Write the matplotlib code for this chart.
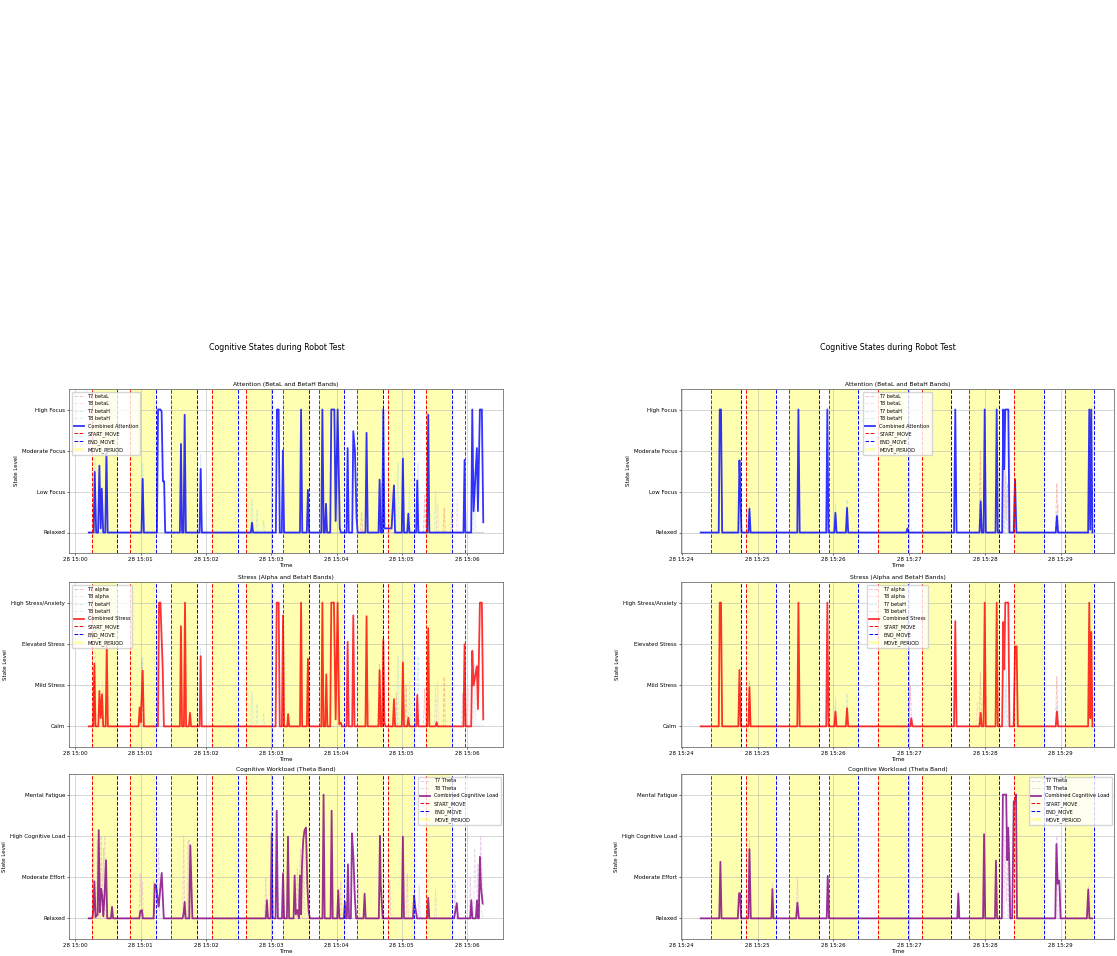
import pandas as pd
import matplotlib
matplotlib.use("Agg")
import matplotlib.pyplot as plt
import matplotlib.dates as mdates

# sesiones (inicio de cada prueba)
T0_A = pd.Timestamp("2024-05-28 15:00:00")
T0_B = pd.Timestamp("2024-05-28 15:24:00")

ATT_LEVELS = ["Relaxed", "Low Focus", "Moderate Focus", "High Focus"]
STR_LEVELS = ["Calm", "Mild Stress", "Elevated Stress", "High Stress/Anxiety"]
COG_LEVELS = ["Relaxed", "Moderate Effort", "High Cognitive Load", "Mental Fatigue"]

# ---- session A: (seconds after T0_A, state level) ----
a_attention = [(12.2, 0), (16.7, 0), (17.7, 1.48), (19.0, 0), (20.8, 0), (22.0, 1.63), (23.2, 0.1),
               (24.2, 1.07), (25.5, 0), (27.4, 0), (28.5, 2.0), (29.6, 0), (60.7, 0), (61.8, 1.31),
               (62.9, 0), (74.9, 0), (75.9, 3.0), (78.1, 3.0), (79.2, 2.95), (80.4, 1.25), (81.5, 1.25),
               (82.5, 0), (96.0, 0), (97.0, 2.16), (98.0, 0), (99.4, 0), (100.4, 2.87), (101.5, 0),
               (114.1, 0), (115.1, 1.55), (116.2, 0), (161.3, 0), (162.3, 0.24), (163.3, 0),
               (184.2, 0), (185.2, 3.0), (186.8, 3.0), (187.8, 0), (189.7, 0), (190.7, 2.0), (191.8, 0),
               (206.4, 0), (207.4, 3.0), (208.5, 0), (212.7, 0), (213.7, 1.04), (214.8, 0),
               (226.0, 0), (227.0, 3.0), (228.2, 0), (229.3, 0), (230.3, 0.7), (231.3, 0),
               (234.2, 0), (235.2, 3.0), (238.0, 3.0), (239.2, 0.28), (241.0, 3.0), (243.0, 0.1), (244.0, 0),
               (249.2, 0), (250.2, 2.06), (251.2, 0), (254.4, 0), (255.4, 2.47), (256.9, 2.0), (258.4, 0.36),
               (259.4, 0), (266.6, 0), (267.6, 2.43), (268.7, 0), (278.6, 0), (279.6, 1.29), (280.6, 0),
               (282.0, 0), (283.0, 3.0), (284.0, 0.1), (290.6, 0.1), (292.8, 1.15), (293.8, 0),
               (300.0, 0), (301.0, 1.8), (302.0, 0), (305.0, 0), (306.0, 0.46), (307.0, 0),
               (313.2, 0), (314.2, 1.27), (315.2, 0), (323.3, 0), (324.3, 2.87), (325.3, 0),
               (356.7, 0), (357.7, 1.77), (358.5, 0), (363.8, 0), (364.8, 3.0), (366.0, 0.52),
               (369.0, 2.06), (370.0, 0.52), (371.8, 3.0), (373.6, 3.0), (374.9, 0.25)]

a_stress = [(12.2, 0), (16.4, 0), (17.4, 1.52), (18.4, 0), (21.0, 0), (22.0, 0.86), (23.2, 0.2),
            (24.4, 0.78), (25.5, 0), (27.8, 0), (28.8, 2.0), (29.8, 0), (58.0, 0), (59.0, 0.46),
            (60.0, 0.1), (61.8, 1.35), (62.9, 0), (75.8, 0), (76.8, 3.0), (78.1, 3.0), (80.2, 1.4),
            (81.3, 0), (96.0, 0), (97.0, 2.43), (98.0, 0), (99.7, 0), (100.7, 3.0), (101.7, 0),
            (104.3, 0), (105.3, 0.33), (106.3, 0), (114.1, 0), (115.1, 1.7), (116.1, 0),
            (184.0, 0), (185.0, 3.0), (186.8, 3.0), (187.8, 0), (189.8, 0), (190.8, 2.69), (191.8, 0),
            (194.7, 0), (195.5, 0.3), (196.5, 0), (206.4, 0), (207.4, 3.0), (208.4, 0),
            (212.7, 0), (213.7, 1.64), (214.7, 0), (226.0, 0), (227.0, 3.0), (228.0, 0),
            (229.6, 0), (230.6, 1.26), (231.6, 0), (234.2, 0), (235.2, 3.0), (237.6, 3.0),
            (239.2, 0.17), (241.0, 3.0), (242.5, 0.05), (244.0, 0.09), (245.0, 0),
            (249.2, 0), (250.2, 2.05), (251.2, 0), (254.4, 0), (255.4, 2.69), (256.5, 0),
            (266.6, 0), (267.6, 2.67), (268.6, 0), (278.6, 0), (279.6, 1.36), (280.6, 0),
            (282.0, 0), (283.0, 2.1), (284.0, 0.1), (285.0, 0), (291.8, 0), (292.8, 0.66), (293.8, 0),
            (300.0, 0), (301.0, 1.55), (302.0, 0), (305.0, 0), (306.0, 0.21), (307.0, 0),
            (313.2, 0), (314.2, 0.76), (315.2, 0), (323.3, 0), (324.3, 2.38), (325.3, 0),
            (331.0, 0), (332.0, 0.1), (333.0, 0), (356.7, 0), (357.7, 1.99), (358.7, 0),
            (363.8, 0), (364.8, 1.83), (366.0, 0.99), (369.0, 1.46), (370.0, 0.42),
            (371.8, 3.0), (373.6, 3.0), (374.9, 0.17)]

a_workload = [(12.2, 0), (15.5, 0), (16.5, 0.2), (17.4, 0.9), (18.5, 0.03), (20.4, 0.1), (21.4, 2.14),
              (22.4, 0.15), (23.5, 0.72), (24.6, 0.56), (25.5, 0.05), (26.7, 0.52), (28.1, 1.41),
              (29.2, 0), (32.6, 0), (33.6, 0.28), (34.6, 0), (58.7, 0), (59.7, 0.18), (61.1, 0.2),
              (61.9, 0), (71.9, 0), (72.9, 0.83), (74.3, 0.76), (76.5, 0.28), (79.3, 1.1), (81.2, 0),
              (98.4, 0), (99.4, 0.1), (100.4, 0.4), (101.3, 0), (104.6, 0), (105.6, 1.77), (107.5, 0),
              (175.0, 0), (176.0, 0.44), (177.0, 0), (179.4, 0), (180.4, 2.06), (181.3, 0),
              (184.0, 0), (185.0, 2.61), (186.1, 0), (189.8, 0), (190.8, 1.09), (191.8, 0),
              (194.4, 0), (195.4, 1.98), (196.4, 0), (200.5, 0), (201.5, 1.04), (202.5, 0.1),
              (204.0, 0.2), (205.4, 0), (206.4, 1.04), (207.4, 0.1), (208.2, 1.25), (209.4, 1.9),
              (210.6, 2.14), (211.9, 2.2), (213.1, 0.84), (214.4, 0.15), (215.6, 0),
              (227.1, 0), (228.1, 3.0), (229.1, 0), (234.5, 0), (235.5, 2.61), (236.5, 0),
              (240.6, 0), (241.6, 0.68), (242.6, 0), (246.7, 0), (247.7, 0.4), (248.7, 0),
              (249.5, 0), (250.5, 1.31), (251.5, 0), (253.2, 0), (254.2, 2.06), (255.5, 1.48),
              (256.8, 0.52), (258.0, 0), (264.8, 0), (265.8, 0.6), (266.8, 0),
              (278.9, 0), (279.9, 2.0), (280.6, 0.84), (281.5, 0.4), (282.5, 0),
              (300.0, 0), (301.0, 1.98), (302.0, 0), (310.3, 0), (311.3, 0.55), (312.3, 0.28),
              (314.0, 0), (323.3, 0), (324.3, 0.5), (325.3, 0), (348.0, 0), (350.6, 0.37), (351.6, 0),
              (362.9, 0), (363.9, 0.44), (364.9, 0), (368.1, 0), (369.1, 0.44), (370.1, 0),
              (370.8, 0), (371.8, 1.49), (372.8, 0.76), (374.3, 0.36)]

# canales individuales (trazos tenues)
a_t7_betaL = [(12.2, 0), (262, 0), (263, 0.5), (264, 0), (280, 0), (281, 1.2), (282, 0), (320, 0),
              (321, 0.9), (322, 0), (338, 0), (339, 0.6), (340, 0), (345, 0), (346, 0.5), (347, 0), (374.9, 0)]
a_t8_betaL = [(12.2, 0), (226, 0), (226.8, 0.55), (227.5, 0), (290, 0), (291, 1.0), (292, 0), (332, 0),
              (333, 0.7), (334, 0), (350, 0), (351, 0.8), (352, 0), (374.9, 0)]
a_t7_betaH = [(12.2, 0), (60.7, 0), (61.8, 1.7), (62.9, 0), (114, 0), (115.1, 1.9), (116, 0), (161, 0),
              (162.3, 0.8), (163.5, 0), (166, 0), (167, 0.55), (168, 0), (172, 0), (173, 0.3), (174, 0),
              (295, 0), (296.5, 1.7), (297.5, 0), (314, 0), (315, 1.7), (316, 0), (330, 0), (331, 1.0),
              (332, 0), (366, 0), (367, 1.5), (368, 0), (374.9, 0)]
a_t8_betaH = [(12.2, 0), (17, 0), (18, 1.8), (19, 0), (300, 0), (301.5, 2.0), (302.5, 0), (306, 0),
              (307, 1.1), (308, 0), (374.9, 0)]
a_t7_alpha = [(12.2, 0), (16, 0), (17, 1.2), (18, 0), (60, 0), (61, 1.6), (62, 0), (278, 0), (279.5, 1.5),
              (280.5, 0), (294, 0), (295, 0.8), (296, 0), (303, 0), (304, 1.0), (305, 0), (320, 0),
              (321, 0.9), (322, 0), (338, 0), (339, 1.2), (340, 0), (355, 0), (356, 0.8), (357, 0), (374.9, 0)]
a_t8_alpha = [(12.2, 0), (24, 0), (25, 1.1), (26, 0), (100, 0), (101, 1.3), (102, 0), (269, 0), (270, 0.6),
              (271, 0), (332, 0), (333, 1.1), (334, 0), (345, 0), (346, 0.9), (347, 0), (360, 0),
              (361, 1.0), (362, 0), (374.9, 0)]
a_t7_theta = [(12.2, 0), (15.5, 0), (16.5, 2.0), (17.5, 0), (22.5, 0), (23.6, 2.0), (24.6, 0.3), (25.8, 1.7),
              (26.8, 0), (58.5, 0), (59.5, 1.1), (60.5, 0.3), (61.5, 0.9), (62.5, 0), (75, 0), (76.5, 1.7),
              (77.5, 0), (98.5, 0), (99.5, 2.0), (100.5, 0), (103.5, 0), (104.5, 1.9), (105.5, 0),
              (174, 0), (175, 1.0), (176, 0), (203, 0), (204, 1.2), (205, 0.3), (207, 1.7), (208, 0),
              (243, 0), (244, 0.9), (245, 0), (259, 0), (260, 1.0), (261, 0), (288, 0), (289, 0.9), (290, 0),
              (304, 0), (305, 1.1), (306, 0), (315, 0), (316, 0.8), (317, 0), (348, 0), (349, 0.9), (350, 0),
              (362, 0), (363, 1.0), (364, 0), (369, 0), (370, 1.3), (371, 0), (372.5, 2.0), (374.9, 0.3)]
a_t8_theta = [(12.2, 0), (19, 0), (20, 1.9), (21, 0), (26, 0), (27, 2.0), (28, 0), (71, 0), (72, 0.9),
              (73, 0), (102.5, 0), (103.5, 1.9), (104.5, 0), (209, 0), (210, 1.5), (211, 0), (282, 0),
              (283, 1.0), (284, 0), (330, 0), (331, 0.7), (332, 0), (366, 0), (367, 1.7), (368, 0.8), (374.9, 0)]

# eventos de movimiento (s)
a_start_move = [15.2, 50.2, 88.2, 125.9, 156.5, 190.5, 223.6, 258.5, 287.2, 322.5, 358.3]
a_end_move = [38.2, 74.4, 112.1, 149.4, 180.4, 214.4, 246.8, 282.4, 311.1, 346.0]

# ---- session B: (seconds after T0_B, state level) ----
b_attention = [(15, 0), (29.3, 0), (30.1, 3), (31.1, 3), (32, 0), (44.8, 0), (45.7, 1.76), (46.5, 0.89),
               (47.3, 0), (52.8, 0), (53.6, 0.58), (54.5, 0), (91.5, 0), (92.4, 3), (93.4, 0), (114.4, 0),
               (115.3, 3), (116.2, 0), (120.8, 0), (121.7, 0.48), (122.6, 0), (130, 0), (130.9, 0.6),
               (131.8, 0), (177.8, 0), (178.7, 0.1), (179.6, 0), (215.6, 0), (216.6, 3), (217.6, 0),
               (235.8, 0), (236.7, 0.76), (237.6, 0), (239, 0), (239.9, 3), (240.8, 0), (248.5, 0),
               (249.4, 3), (250.3, 0), (253.7, 0), (254.6, 3), (255.4, 1.54), (256.2, 3), (258.6, 3),
               (259.5, 0), (262.9, 0), (263.9, 1.3), (265, 0), (296.2, 0), (297.1, 0.4), (298, 0),
               (321.8, 0), (322.7, 3), (323.5, 0.07), (324.3, 3), (325.2, 0)]
b_stress = [(15, 0), (29.3, 0), (30.1, 3), (31.1, 3), (32, 0), (44.8, 0), (45.7, 1.37), (46.7, 0),
            (52.8, 0), (53.6, 0.95), (54.5, 0), (91.5, 0), (92.4, 3), (93.4, 0), (114.4, 0), (115.3, 3),
            (116.2, 0), (120.8, 0), (121.7, 0.36), (122.6, 0), (130, 0), (130.9, 0.44), (131.8, 0),
            (180.9, 0), (181.8, 0.2), (182.7, 0), (215.6, 0), (216.6, 2.55), (217.6, 0), (235.8, 0),
            (236.7, 0.33), (237.6, 0), (239, 0), (239.9, 3), (240.8, 0), (248.5, 0), (249.4, 3),
            (250.3, 0), (253.7, 0), (254.6, 2.53), (255.4, 1.38), (256.2, 3), (258.6, 3), (259.5, 0),
            (262.9, 0), (263.9, 1.94), (265.2, 1.94), (266.1, 0), (296.2, 0), (297.1, 0.36), (298, 0),
            (321.8, 0), (322.7, 3), (323.5, 0.2), (324.3, 2.29), (325.2, 0)]
b_workload = [(15, 0), (29.7, 0), (30.6, 1.37), (31.5, 0), (44.4, 0), (45.4, 0.61), (46.2, 0.61), (47, 0),
              (52.8, 0), (53.6, 1.68), (54.7, 0), (71, 0), (71.8, 0.71), (72.6, 0), (90.6, 0), (91.6, 0.38),
              (92.7, 0), (114.8, 0), (115.6, 1.03), (116.6, 0), (218.2, 0), (219, 0.6), (219.8, 0),
              (238.6, 0), (239.4, 2.04), (240.3, 0), (248, 0), (248.8, 1.4), (249.7, 0), (253.5, 0),
              (254.3, 3), (256.9, 3), (257.7, 1.41), (258.5, 2.2), (259.3, 1.41), (260.1, 0), (261.7, 0),
              (262.9, 2.84), (264.2, 2.84), (264.7, 3), (265.5, 0), (295.8, 0), (296.7, 1.8), (297.7, 0.84),
              (299, 0.92), (300, 0), (320.8, 0), (321.9, 0.7), (322.8, 0), (325.2, 0)]

b_t7_betaL = [(15, 0), (235.5, 0), (236.5, 2.0), (237.5, 0), (255, 0), (256, 1.5), (257, 0.3), (258, 1.2),
              (259, 0), (296, 0), (297, 1.2), (298, 0), (325.2, 0)]
b_t8_betaL = [(15, 0), (181, 0), (182, 0.1), (183, 0), (258.5, 0), (259.5, 1.8), (260.5, 0), (297, 0),
              (298, 0.7), (299, 0), (325.2, 0)]
b_t7_betaH = [(15, 0), (52.8, 0), (53.6, 0.75), (54.5, 0), (120.8, 0), (121.7, 0.7), (122.6, 0), (130, 0),
              (130.9, 0.8), (131.8, 0), (256, 0), (257, 1.4), (258, 0), (296, 0), (297, 0.5), (298, 0), (325.2, 0)]
b_t8_betaH = [(15, 0), (44.8, 0), (45.7, 1.0), (46.5, 0), (255, 0), (256.5, 1.0), (257.5, 0), (262, 0),
              (263, 0.9), (264, 0), (325.2, 0)]
b_t7_alpha = [(15, 0), (52.8, 0), (53.6, 1.1), (54.5, 0), (180, 0), (181, 1.0), (182, 0), (235.5, 0),
              (236.5, 1.3), (237.5, 0), (296, 0), (297, 1.2), (298, 0), (325.2, 0)]
b_t8_alpha = [(15, 0), (120.8, 0), (121.7, 0.5), (122.6, 0), (233, 0), (234, 0.6), (235, 0), (325.2, 0)]
b_t7_theta = [(15, 0), (52.8, 0), (53.6, 1.9), (54.5, 0), (90.6, 0), (91.6, 1.0), (92.7, 0), (218.2, 0),
              (219, 0.7), (219.8, 0), (255, 0), (256, 2.0), (257, 0.4), (258, 1.5), (259, 0), (296, 0),
              (297, 2.0), (298, 0), (321, 0), (322, 0.8), (323, 0), (325.2, 0)]
b_t8_theta = [(15, 0), (71, 0), (71.8, 0.85), (72.6, 0), (114.8, 0), (115.6, 0.9), (116.6, 0), (258, 0),
              (259, 2.0), (260, 0.5), (261, 0), (325.2, 0)]

b_start_move = [23.2, 50.9, 85.0, 116.4, 155.2, 190.3, 227.7, 263.3, 303.2]
b_end_move = [47.0, 74.7, 108.5, 139.9, 178.9, 213.5, 251.2, 287.1, 326.7]

FS_TICK = 4.0
FS_TITLE = 4.3
FS_LEG = 3.6


def to_series(t0, pts):
    """Convierte (segundos, nivel) en fechas y valores."""
    x = [t0 + pd.Timedelta(seconds=p[0]) for p in pts]
    y = [p[1] for p in pts]
    return x, y


def draw_panel(ax, t0, channels, combined, comb_label, comb_color, levels, title,
               starts, ends, legend_loc):
    for label, pts, color in channels:
        x, y = to_series(t0, pts)
        ax.plot(x, y, linestyle='--', color=color, alpha=0.5, linewidth=0.7, label=label)

    x, y = to_series(t0, combined)
    ax.plot(x, y, color=comb_color, linewidth=1.3, alpha=0.8, label=comb_label)

    for i, s in enumerate(starts):
        ax.axvline(t0 + pd.Timedelta(seconds=s), color='red', linestyle='--', linewidth=0.7,
                   label='START_MOVE' if i == 0 else None)
    for i, e in enumerate(ends):
        ax.axvline(t0 + pd.Timedelta(seconds=e), color='blue', linestyle='--', linewidth=0.7,
                   label='END_MOVE' if i == 0 else None)
    for i, (s, e) in enumerate(zip(starts, ends)):
        ax.axvspan(t0 + pd.Timedelta(seconds=s), t0 + pd.Timedelta(seconds=e), color='yellow',
                   alpha=0.3, linewidth=0, label='MOVE_PERIOD' if i == 0 else None)

    ax.set_ylim(-0.5, 3.5)
    ax.set_yticks(range(4))
    ax.set_yticklabels(levels)
    ax.xaxis.set_major_locator(mdates.MinuteLocator())
    ax.xaxis.set_major_formatter(mdates.DateFormatter('%d %H:%M'))
    ax.tick_params(labelsize=FS_TICK, length=1.3, width=0.4, pad=1.5)
    ax.set_title(title, fontsize=FS_TITLE, pad=2.5)
    ax.set_xlabel('Time', fontsize=FS_TICK, labelpad=1)
    ax.set_ylabel('State Level', fontsize=FS_TICK, labelpad=2)
    ax.grid(True, color='#b0b0b0', alpha=0.6, linewidth=0.6)
    for sp in ax.spines.values():
        sp.set_linewidth(0.5)
        sp.set_color('#555555')
    ax.legend(loc=legend_loc, fontsize=FS_LEG)


fig = plt.figure(figsize=(11.17, 9.56), dpi=100)
W, H = 1117, 956


def add_ax(x0, y0, x1, y1):
    return fig.add_axes([x0 / W, 1 - y1 / H, (x1 - x0) / W, (y1 - y0) / H])


sessions = [
    (T0_A, 69, 503, 277,
     a_attention, a_stress, a_workload,
     [a_t7_betaL, a_t8_betaL, a_t7_betaH, a_t8_betaH, a_t7_alpha, a_t8_alpha, a_t7_theta, a_t8_theta],
     a_start_move, a_end_move, ['upper left', 'upper left', 'upper right']),
    (T0_B, 681, 1114, 888,
     b_attention, b_stress, b_workload,
     [b_t7_betaL, b_t8_betaL, b_t7_betaH, b_t8_betaH, b_t7_alpha, b_t8_alpha, b_t7_theta, b_t8_theta],
     b_start_move, b_end_move, ['upper center', 'upper center', 'upper right']),
]

for (t0, x0, x1, xt, att, stre, work, ch, starts, ends, locs) in sessions:
    t7L, t8L, t7H, t8H, t7a, t8a, t7t, t8t = ch
    fig.text(xt / W, 1 - 347 / H, 'Cognitive States during Robot Test', ha='center', va='center',
             fontsize=5.7)

    ax1 = add_ax(x0, 389, x1, 553)
    draw_panel(ax1, t0,
               [('T7 betaL', t7L, 'lightcoral'), ('T8 betaL', t8L, 'pink'),
                ('T7 betaH', t7H, 'lightblue'), ('T8 betaH', t8H, 'powderblue')],
               att, 'Combined Attention', 'blue', ATT_LEVELS,
               'Attention (BetaL and BetaH Bands)', starts, ends, locs[0])

    ax2 = add_ax(x0, 582, x1, 747)
    draw_panel(ax2, t0,
               [('T7 alpha', t7a, 'lightcoral'), ('T8 alpha', t8a, 'pink'),
                ('T7 betaH', t7H, 'lightblue'), ('T8 betaH', t8H, 'powderblue')],
               stre, 'Combined Stress', 'red', STR_LEVELS,
               'Stress (Alpha and BetaH Bands)', starts, ends, locs[1])

    ax3 = add_ax(x0, 774, x1, 939)
    draw_panel(ax3, t0,
               [('T7 Theta', t7t, 'plum'), ('T8 Theta', t8t, 'thistle')],
               work, 'Combined Cognitive Load', 'purple', COG_LEVELS,
               'Cognitive Workload (Theta Band)', starts, ends, locs[2])

fig.savefig('out.png', dpi=100)
plt.close(fig)
